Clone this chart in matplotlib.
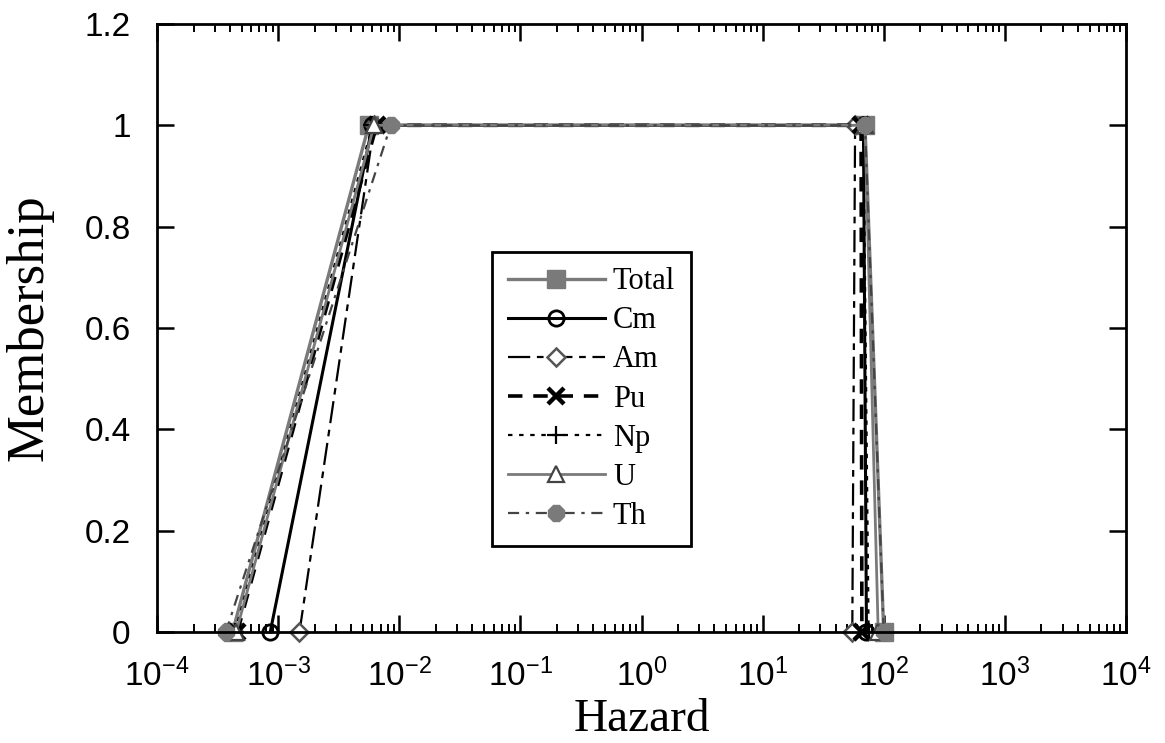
import matplotlib
matplotlib.use("Agg")
import matplotlib.pyplot as plt
from matplotlib.ticker import LogLocator, FixedLocator, NullFormatter

plt.rcParams["mathtext.fontset"] = "custom"
plt.rcParams["mathtext.rm"] = "Liberation Sans"
plt.rcParams["mathtext.it"] = "Liberation Sans"
plt.rcParams["mathtext.bf"] = "Liberation Sans"

# Trapezoidal membership functions: hazard at membership 0, 1, 1, 0
membership = [0, 1, 1, 0]
series_names = ["Total", "Cm", "Am", "Pu", "Np", "U", "Th"]
hazard_total = [4.2e-4, 5.6e-3, 70, 100]
hazard_cm = [8.6e-4, 6.0e-3, 68, 72]
hazard_am = [1.5e-3, 6.2e-3, 58, 55]
hazard_pu = [4.6e-4, 6.5e-3, 65, 66]
hazard_np = [4.4e-4, 6.0e-3, 68, 75]
hazard_u = [4.5e-4, 6.2e-3, 70, 90]
hazard_th = [3.7e-4, 8.5e-3, 70, 100]

y_ticks = [0, 0.2, 0.4, 0.6, 0.8, 1, 1.2]
y_tick_labels = ["0", "0.2", "0.4", "0.6", "0.8", "1", "1.2"]
x_ticks = [1e-4, 1e-3, 1e-2, 1e-1, 1e0, 1e1, 1e2, 1e3, 1e4]
x_tick_labels = [r"$10^{-4}$", r"$10^{-3}$", r"$10^{-2}$", r"$10^{-1}$", r"$10^{0}$",
                 r"$10^{1}$", r"$10^{2}$", r"$10^{3}$", r"$10^{4}$"]

fig = plt.figure(figsize=(11.65, 7.43), dpi=100)
ax = fig.add_axes([0.1348, 0.1494, 0.8317, 0.8183])

gray = "#7a7a7a"
styles = {
    "Total": dict(color=gray, lw=2.4, ls="-", marker="s", ms=13, mfc=gray, mec=gray),
    "Cm": dict(color="black", lw=2.2, ls="-", marker="o", ms=11, mfc="none", mec="black", mew=2),
    "Am": dict(color="black", lw=1.6, ls=(0, (10, 3, 3, 3)), marker="D", ms=9, mfc="white", mec="#555555", mew=1.8),
    "Pu": dict(color="black", lw=2.6, ls=(0, (4, 3)), marker="x", ms=12, mew=3.2, mec="black"),
    "Np": dict(color="black", lw=1.6, ls=(0, (2, 3)), marker="+", ms=13, mew=1.6, mec="black"),
    "U": dict(color=gray, lw=2.0, ls="-", marker="^", ms=11, mfc="white", mec="#444444", mew=1.6),
    "Th": dict(color="#444444", lw=1.6, ls=(0, (5, 3, 1.5, 3)), marker="8", ms=13, mfc=gray, mec=gray),
}
data = {
    "Total": hazard_total, "Cm": hazard_cm, "Am": hazard_am, "Pu": hazard_pu,
    "Np": hazard_np, "U": hazard_u, "Th": hazard_th,
}

for name in series_names:
    ax.plot(data[name], membership, label=name, clip_on=False, **styles[name])

ax.set_xscale("log")
ax.set_xlim(1e-4, 1e4)
ax.set_ylim(0, 1.2)

ax.xaxis.set_major_locator(FixedLocator(x_ticks))
ax.set_xticklabels(x_tick_labels)
ax.xaxis.set_minor_locator(LogLocator(base=10, subs=range(2, 10), numticks=20))
ax.xaxis.set_minor_formatter(NullFormatter())
ax.set_yticks(y_ticks)
ax.set_yticklabels(y_tick_labels)

for lbl in ax.get_xticklabels() + ax.get_yticklabels():
    lbl.set_fontfamily("Liberation Sans")
    lbl.set_fontsize(24)

ax.tick_params(which="major", direction="in", top=True, right=True, length=12, width=1.8)
ax.tick_params(which="minor", direction="in", top=True, right=True, length=6, width=1.4)
ax.tick_params(axis="y", which="major", pad=19)
ax.tick_params(axis="x", which="major", pad=19)
for sp in ax.spines.values():
    sp.set_linewidth(2.0)

ax.set_xlabel("Hazard", fontfamily="Liberation Serif", fontsize=34)
ax.set_ylabel("Membership", fontfamily="Liberation Serif", fontsize=38)
ax.xaxis.set_label_coords(0.5, -0.11)
ax.yaxis.set_label_coords(-0.107, 0.5)

leg = ax.legend(loc="upper left", bbox_to_anchor=(0.346, 0.625), borderaxespad=0,
                prop={"family": "Liberation Serif", "size": 22}, handlelength=3.2,
                labelspacing=0.33, handletextpad=0.25, borderpad=0.5,
                fancybox=False, frameon=True, framealpha=1, edgecolor="black")
leg.get_frame().set_linewidth(2.0)

fig.savefig("out.png", dpi=100)
